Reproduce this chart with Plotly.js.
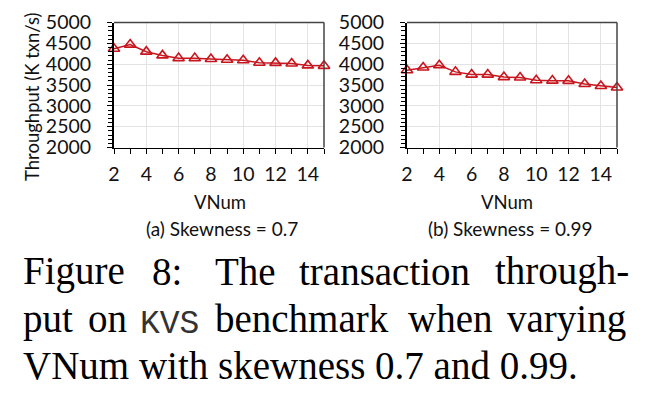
<!DOCTYPE html>
<html><head><meta charset="utf-8">
<script src="https://cdn.plot.ly/plotly-3.0.1.min.js"></script>
<style>html,body{margin:0;padding:0;background:#fff}#c{width:668px;height:399px}</style>
</head><body><div id="c"></div>
<script>
const vnum = [2,3,4,5,6,7,8,9,10,11,12,13,14,15];
const skew07 = [4370,4470,4300,4210,4145,4145,4125,4105,4095,4035,4030,4015,3970,3960];
const skew099 = [3855,3920,3975,3815,3750,3750,3690,3680,3615,3605,3600,3525,3475,3440];
const yTicks = [2000,2500,3000,3500,4000,4500,5000];
const xTicks = [2,4,6,8,10,12,14];
const yTitle = 'Throughput (K txn/s)';
const xTitle = 'VNum';
const subcaps = ['(a) Skewness = 0.7','(b) Skewness = 0.99'];
const line1 = ['Figure','8:','The','transaction','through-'];
const line2 = ['put','on','KVS','benchmark','when','varying'];
const line3 = 'VNum with skewness 0.7 and 0.99.';

const W=668,H=399;
const px=x=>x/W, py=y=>1-y/H;
const red='#c8161e';
const sans='Lato, "Open Sans", sans-serif';
const serif='"Liberation Serif", "Times New Roman", serif';
const txt='#111';

function tr(y,xa,ya){return {x:vnum,y:y,xaxis:xa,yaxis:ya,type:'scatter',mode:'lines+markers',
 line:{color:red,width:1.5},marker:{symbol:'triangle-up-open',size:10,color:red,line:{width:1.6,color:red}},
 cliponaxis:false,showlegend:false,hoverinfo:'skip'};}

function xax(d){return {domain:d,range:[2,15],tickvals:xTicks,ticktext:xTicks.map(String),
 showline:true,linecolor:'#000',linewidth:1.5,ticks:'outside',ticklen:5,tickcolor:'#000',tickwidth:1,
 showgrid:true,gridcolor:'#e3e3e3',gridwidth:1,zeroline:false,ticklabelstandoff:4,
 minor:{dtick:1,tick0:0,ticks:'outside',ticklen:5,tickcolor:'#000',showgrid:false},
 tickfont:{family:sans,size:19.5,color:txt},fixedrange:true};}
function yax(d,anchor){return {domain:d,anchor:anchor,range:[2000,5000],tickvals:yTicks,ticktext:yTicks.map(String),
 showline:true,linecolor:'#000',linewidth:2,ticks:'outside',ticklen:5,tickcolor:'#000',tickwidth:1,
 showgrid:true,gridcolor:'#e3e3e3',gridwidth:1,zeroline:false,ticklabelstandoff:12,
 minor:{dtick:100,tick0:0,ticks:'outside',ticklen:4,tickcolor:'#000',showgrid:false},
 tickfont:{family:sans,size:19.5,color:txt},fixedrange:true};}

const L=[114,324],R=[407,617],T=22.5,B=147.5;
const ann=[];
ann.push({text:yTitle,x:px(32),y:py(97),xref:'paper',yref:'paper',textangle:-90,showarrow:false,
 font:{family:sans,size:18.5,color:txt},xanchor:'center',yanchor:'middle'});
[[220,0],[507,1]].forEach(([cx,i])=>{
 ann.push({text:xTitle,x:px(cx),y:py(202),xref:'paper',yref:'paper',showarrow:false,font:{family:sans,size:18.5,color:txt},xanchor:'center',yanchor:'middle'});
});
[[222,0],[511,1]].forEach(([cx,i])=>{
 ann.push({text:subcaps[i],x:px(cx),y:py(228),xref:'paper',yref:'paper',showarrow:false,font:{family:sans,size:19,color:txt},xanchor:'center',yanchor:'middle'});
});
const l1x=[21,150,213,297,493], l2x=[21,86,138,213,406,505];
line1.forEach((w,i)=>ann.push({text:w,x:px(l1x[i]),y:py(271),xref:'paper',yref:'paper',showarrow:false,
 font:{family:serif,size:39,color:'#000'},xanchor:'left',yanchor:'middle'}));
line2.forEach((w,i)=>ann.push({text:w,x:px(l2x[i]),y:py(w==='KVS'?324:318.5),xref:'paper',yref:'paper',showarrow:false,
 font:(w==='KVS'?{family:'"Liberation Mono", monospace',size:33,color:'#333'}:{family:serif,size:39,color:'#000'}),xanchor:'left',yanchor:'middle'}));
ann.push({text:line3,x:px(21),y:py(365),xref:'paper',yref:'paper',showarrow:false,font:{family:serif,size:39,color:'#000'},xanchor:'left',yanchor:'middle'});

const shapes=[];
[L,R].forEach(p=>{
 shapes.push({type:'line',xref:'paper',yref:'paper',x0:px(p[0]),x1:px(p[1]),y0:py(T),y1:py(T),line:{color:'#444',width:1.5}});
 shapes.push({type:'line',xref:'paper',yref:'paper',x0:px(p[1]),x1:px(p[1]),y0:py(T),y1:py(B),line:{color:'#444',width:1.5}});
});

const layout={width:W,height:H,margin:{l:0,r:0,t:0,b:0},paper_bgcolor:'#fff',plot_bgcolor:'#fff',
 xaxis:Object.assign(xax([px(L[0]),px(L[1])]),{anchor:'y'}),
 yaxis:yax([py(B),py(T)],'x'),
 xaxis2:Object.assign(xax([px(R[0]),px(R[1])]),{anchor:'y2'}),
 yaxis2:yax([py(B),py(T)],'x2'),
 annotations:ann,shapes:shapes};
Plotly.newPlot('c',[tr(skew07,'x','y'),tr(skew099,'x2','y2')],layout,{staticPlot:true,displayModeBar:false});
</script></body></html>
